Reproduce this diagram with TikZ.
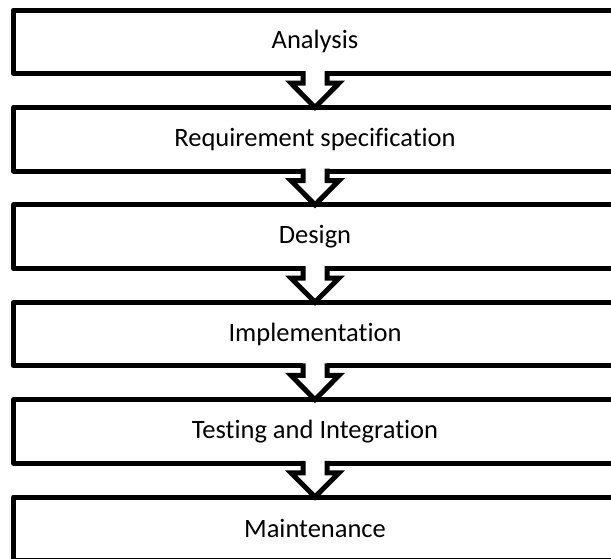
\documentclass[tikz,border=0pt]{standalone}
\usepackage{fontspec}
\setmainfont{Carlito}[Ligatures={NoCommon,NoRare}]
\usetikzlibrary{calc}
\tikzset{
  stage/.style={draw=black, line width=5pt, fill=white, outer sep=0pt,
    minimum width=603pt, minimum height=63.7pt, inner sep=0pt,
    font=\fontsize{26.5}{31}\selectfont, line join=round},
  flowline/.style={draw=black, line width=5pt, line join=miter},
}
\begin{document}
\begin{tikzpicture}[x=1pt,y=-1pt]
\useasboundingbox (0,0) rectangle (611,558);
\clip (0,0) rectangle (611,558);
% the six stages of the process
\node[stage] (a1) at (315,41.85)  {Analysis};
\node[stage] (a2) at (315,139.25) {Requirement specification};
\node[stage] (a3) at (315,236.65) {Design};
\node[stage] (a4) at (315,334.05) {Implementation};
\node[stage] (a5) at (315,431.45) {Testing and Integration};
\node[stage] (a6) at (315,528.85) {Maintenance};
% hollow block arrows joining consecutive stages
\foreach \u/\v in {a1/a2,a2/a3,a3/a4,a4/a5,a5/a6}{
  \fill[white] ($(\u.south)+(-12,-4)$) -- ($(\u.south)+(-12,9.5)$)
    -- ($(\u.south)+(-24,9.5)$) -- (\v.north) -- ($(\u.south)+(24,9.5)$)
    -- ($(\u.south)+(12,9.5)$) -- ($(\u.south)+(12,-4)$) -- cycle;
  \draw[flowline] ($(\u.south)+(-12,-2.5)$) -- ($(\u.south)+(-12,9.5)$)
    -- ($(\u.south)+(-24,9.5)$) -- (\v.north) -- ($(\u.south)+(24,9.5)$)
    -- ($(\u.south)+(12,9.5)$) -- ($(\u.south)+(12,-2.5)$);
}
\end{tikzpicture}
\end{document}
